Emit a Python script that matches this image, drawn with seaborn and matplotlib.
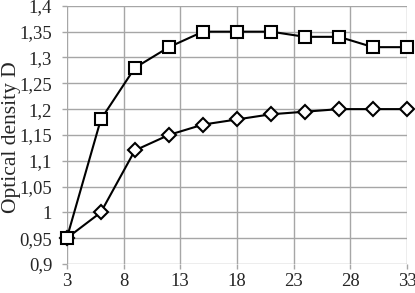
import matplotlib
matplotlib.use("Agg")
import matplotlib.pyplot as plt
import seaborn as sns
import pandas as pd
from matplotlib.ticker import FuncFormatter, MultipleLocator

time = [3, 6, 9, 12, 15, 18, 21, 24, 27, 30, 33]
series_square = [0.95, 1.18, 1.28, 1.32, 1.35, 1.35, 1.35, 1.34, 1.34, 1.32, 1.32]
series_diamond = [0.95, 1.00, 1.12, 1.15, 1.17, 1.18, 1.19, 1.195, 1.20, 1.20, 1.20]
x_ticks = [3, 8, 13, 18, 23, 28, 33]
y_label = "Optical density D"

sns.set_style("white")
plt.rcParams['font.family'] = ['Liberation Serif', 'DejaVu Serif']

fig = plt.figure(figsize=(4.15, 2.93), dpi=100)
ax = fig.add_axes([0.161, 0.099, 0.82, 0.881])

df = pd.DataFrame({"x": time, "sq": series_square, "di": series_diamond})

sns.lineplot(data=df, x="x", y="di", ax=ax, color="black", lw=1.5,
             marker="D", markersize=7.0, markerfacecolor="white",
             markeredgecolor="black", markeredgewidth=1.5, zorder=3)
sns.lineplot(data=df, x="x", y="sq", ax=ax, color="black", lw=1.5,
             marker="s", markersize=8.8, markerfacecolor="white",
             markeredgecolor="black", markeredgewidth=1.5, zorder=4)

ax.set_xlim(3, 33)
ax.set_ylim(0.9, 1.4)
ax.set_xticks(x_ticks)
ax.yaxis.set_major_locator(MultipleLocator(0.05))
ax.yaxis.set_major_formatter(FuncFormatter(lambda v, p: ("%g" % round(v, 2)).replace('.', ',')))
ax.grid(True, color="#a6a6a6", lw=1.0)
ax.set_axisbelow(True)
for s in ax.spines.values():
    s.set_visible(False)
ax.tick_params(axis='both', which='both', length=3.5, color="#a6a6a6", width=1.0,
               labelsize=13.5, left=True, bottom=True)
ax.tick_params(axis='y', pad=7)
ax.tick_params(axis='x', pad=3)
ax.set_xlabel("")
ax.set_ylabel(y_label, fontsize=15.5, va="center")
ax.yaxis.set_label_coords(-0.163, 0.49)
for l in ax.lines:
    l.set_clip_on(False)

fig.savefig("out.png", dpi=100)
